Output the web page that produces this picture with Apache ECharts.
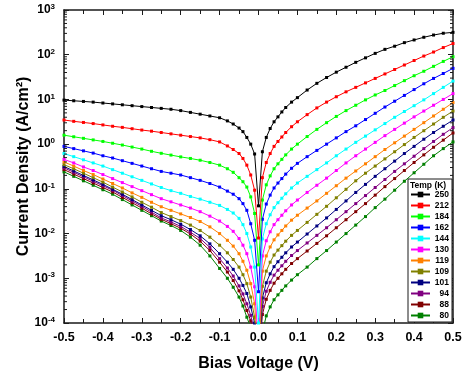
<!DOCTYPE html>
<html>
<head>
<meta charset="utf-8">
<script src="https://cdn.jsdelivr.net/npm/echarts@6/dist/echarts.min.js"></script>
<style>
  html, body { margin: 0; padding: 0; background: #fff; }
  #chart { width: 466px; height: 377px; }
</style>
</head>
<body>
<div id="chart"></div>
<script>
// Bias voltage (V) sample points (markers in the reference)
const voltage = [-0.5,-0.475,-0.45,-0.425,-0.4,-0.375,-0.35,-0.325,-0.3,-0.275,-0.25,-0.225,-0.2,-0.175,-0.15,-0.125,
  -0.1,-0.08,-0.065,-0.05,-0.04,-0.03,-0.02,-0.01,0,
  0.01,0.02,0.03,0.04,0.05,0.06,0.07,0.085,0.1,
  0.125,0.15,0.175,0.2,0.225,0.25,0.275,0.3,0.325,0.35,0.375,0.4,0.425,0.45,0.475,0.5];

// Temperatures (K), legend order
const temps = ['250','212','184','162','144','130','119','109','101','94','88','80'];

// Current density, stored as log10(J in A/cm^2)
const logJ_250 = [0.985,0.97,0.955,0.94,0.92,0.90,0.88,0.86,0.84,0.82,0.80,0.78,0.75,0.71,0.67,0.63,
  0.59,0.52,0.45,0.36,0.28,0.15,0.0,-0.22,-1.38,
  -0.17,0.15,0.35,0.50,0.61,0.72,0.82,0.94,1.04,
  1.21,1.36,1.49,1.61,1.72,1.83,1.93,2.03,2.12,2.19,2.27,2.33,2.39,2.44,2.48,2.50];
const logJ_212 = [0.54,0.51,0.485,0.46,0.43,0.40,0.375,0.345,0.315,0.29,0.26,0.23,0.20,0.17,0.14,0.10,
  0.05,-0.04,-0.12,-0.21,-0.32,-0.47,-0.69,-1.03,-2.1,
  -0.75,-0.41,-0.21,-0.05,0.06,0.16,0.26,0.39,0.50,
  0.66,0.81,0.94,1.06,1.17,1.27,1.37,1.47,1.57,1.67,1.77,1.87,1.97,2.06,2.16,2.25];
const logJ_184 = [0.20,0.165,0.13,0.095,0.06,0.02,-0.02,-0.065,-0.11,-0.16,-0.205,-0.245,-0.285,-0.32,-0.36,-0.41,
  -0.47,-0.55,-0.63,-0.75,-0.84,-0.96,-1.18,-1.55,-2.7,
  -1.25,-0.91,-0.71,-0.55,-0.44,-0.34,-0.24,-0.11,0.0,
  0.17,0.33,0.48,0.62,0.75,0.87,0.99,1.10,1.20,1.31,1.42,1.53,1.63,1.74,1.85,1.955];
const logJ_162 = [-0.05,-0.10,-0.15,-0.20,-0.26,-0.31,-0.37,-0.43,-0.49,-0.55,-0.61,-0.65,-0.69,-0.75,-0.81,-0.88,
  -0.96,-1.05,-1.12,-1.22,-1.33,-1.48,-1.78,-2.15,-3.3,
  -1.68,-1.34,-1.14,-0.98,-0.87,-0.77,-0.67,-0.54,-0.43,
  -0.28,-0.14,0.0,0.14,0.28,0.41,0.55,0.69,0.83,0.96,1.09,1.22,1.35,1.47,1.58,1.695];
const logJ_144 = [-0.21,-0.28,-0.35,-0.42,-0.49,-0.57,-0.65,-0.73,-0.81,-0.89,-0.97,-1.04,-1.10,-1.17,-1.23,-1.30,
  -1.37,-1.46,-1.54,-1.66,-1.80,-2.0,-2.30,-2.75,-4.0,
  -2.12,-1.78,-1.58,-1.42,-1.31,-1.21,-1.11,-0.98,-0.87,
  -0.72,-0.57,-0.42,-0.26,-0.11,0.04,0.18,0.32,0.46,0.60,0.73,0.86,0.99,1.13,1.27,1.41];
const logJ_130 = [-0.34,-0.42,-0.51,-0.59,-0.68,-0.77,-0.86,-0.95,-1.04,-1.13,-1.22,-1.29,-1.36,-1.43,-1.51,-1.61,
  -1.72,-1.84,-1.95,-2.11,-2.26,-2.45,-2.75,-3.19,-4.5,
  -2.50,-2.16,-1.96,-1.80,-1.69,-1.59,-1.49,-1.36,-1.25,
  -1.08,-0.92,-0.76,-0.59,-0.42,-0.26,-0.11,0.04,0.19,0.33,0.47,0.61,0.74,0.87,1.0,1.13];
const logJ_119 = [-0.40,-0.49,-0.59,-0.68,-0.78,-0.88,-0.98,-1.09,-1.19,-1.30,-1.40,-1.48,-1.56,-1.64,-1.73,-1.85,
  -2.0,-2.15,-2.28,-2.45,-2.62,-2.82,-3.12,-3.57,-4.8,
  -2.84,-2.50,-2.30,-2.14,-2.03,-1.93,-1.83,-1.70,-1.59,
  -1.43,-1.27,-1.10,-0.93,-0.76,-0.60,-0.44,-0.28,-0.12,0.03,0.18,0.33,0.48,0.63,0.78,0.93];
const logJ_109 = [-0.46,-0.55,-0.65,-0.75,-0.85,-0.96,-1.07,-1.18,-1.30,-1.41,-1.53,-1.62,-1.71,-1.81,-1.93,-2.08,
  -2.26,-2.43,-2.58,-2.75,-2.92,-3.12,-3.42,-3.87,-5.0,
  -3.18,-2.84,-2.64,-2.48,-2.37,-2.27,-2.17,-2.04,-1.93,
  -1.75,-1.57,-1.39,-1.20,-1.01,-0.82,-0.65,-0.49,-0.33,-0.17,-0.01,0.15,0.30,0.45,0.60,0.74];
const logJ_101 = [-0.50,-0.60,-0.70,-0.80,-0.90,-1.01,-1.12,-1.24,-1.36,-1.48,-1.60,-1.69,-1.79,-1.91,-2.05,-2.23,
  -2.45,-2.64,-2.80,-3.0,-3.16,-3.34,-3.64,-4.0,-5.0,
  -3.44,-3.10,-2.90,-2.74,-2.63,-2.53,-2.43,-2.30,-2.19,
  -2.01,-1.83,-1.65,-1.46,-1.27,-1.08,-0.90,-0.72,-0.55,-0.38,-0.21,-0.05,0.11,0.26,0.40,0.54];
const logJ_94 = [-0.53,-0.63,-0.73,-0.83,-0.93,-1.03,-1.15,-1.27,-1.39,-1.52,-1.65,-1.74,-1.84,-1.97,-2.11,-2.31,
  -2.56,-2.77,-2.95,-3.17,-3.35,-3.57,-3.83,-4.2,-5.0,
  -3.63,-3.29,-3.09,-2.93,-2.82,-2.72,-2.62,-2.49,-2.38,
  -2.21,-2.04,-1.87,-1.69,-1.51,-1.33,-1.15,-0.97,-0.79,-0.61,-0.44,-0.27,-0.10,0.06,0.22,0.37];
const logJ_88 = [-0.57,-0.67,-0.77,-0.87,-0.97,-1.07,-1.19,-1.31,-1.43,-1.56,-1.68,-1.78,-1.88,-2.01,-2.17,-2.38,
  -2.64,-2.86,-3.05,-3.28,-3.48,-3.72,-3.95,-4.3,-5.0,
  -3.81,-3.47,-3.27,-3.11,-3.00,-2.90,-2.80,-2.67,-2.56,
  -2.39,-2.22,-2.05,-1.87,-1.69,-1.51,-1.33,-1.14,-0.95,-0.77,-0.59,-0.41,-0.24,-0.07,0.09,0.25];
const logJ_80 = [-0.62,-0.72,-0.82,-0.92,-1.02,-1.12,-1.24,-1.36,-1.48,-1.60,-1.72,-1.82,-1.93,-2.08,-2.26,-2.50,
  -2.78,-3.0,-3.20,-3.42,-3.62,-3.87,-4.1,-4.5,-5.0,
  -4.2,-3.84,-3.64,-3.48,-3.37,-3.27,-3.17,-3.04,-2.92,
  -2.75,-2.56,-2.38,-2.19,-2.0,-1.81,-1.62,-1.42,-1.23,-1.03,-0.83,-0.64,-0.45,-0.26,-0.10,0.05];

const seriesLogs = [logJ_250, logJ_212, logJ_184, logJ_162, logJ_144, logJ_130, logJ_119, logJ_109, logJ_101, logJ_94, logJ_88, logJ_80];
const colors = ['#000000','#ff0000','#00ff00','#0000ff','#00ffff','#ff00ff','#ff8000','#808000','#000080','#800080','#800000','#008000'];

const FONT = '"Liberation Sans", Arial, sans-serif';
const AXIS_COLOR = '#1a1a1a';

const chart = echarts.init(document.getElementById('chart'), null, { renderer: 'canvas' });

const lineSeries = temps.map((t, i) => ({
  name: t,
  type: 'line',
  data: voltage.map((v, k) => [v, Math.pow(10, seriesLogs[i][k])]),
  symbol: 'rect',
  symbolSize: 3,
  showSymbol: true,
  lineStyle: { width: 1, color: colors[i] },
  itemStyle: { color: colors[i] },
  clip: true,
  z: 3 + (temps.length - i) * 0.01,
  animation: false
}));

// minor log ticks (2..9 x 10^n) on left and right frames
const minorTickValues = [];
for (let n = -4; n <= 2; n++) for (let k = 2; k <= 9; k++) minorTickValues.push([0, k * Math.pow(10, n)]);

const minorTickSeries = {
  type: 'custom',
  silent: true,
  clip: false,
  z: 10,
  animation: false,
  data: minorTickValues,
  renderItem: function (params, api) {
    const v = api.value(1);
    const l = api.coord([-0.5, v]);
    const r = api.coord([0.5, v]);
    return {
      type: 'group',
      children: [
        { type: 'line', shape: { x1: l[0], y1: l[1], x2: l[0] + 3, y2: l[1] }, style: { stroke: AXIS_COLOR, lineWidth: 1 } },
        { type: 'line', shape: { x1: r[0] - 3, y1: r[1], x2: r[0], y2: r[1] }, style: { stroke: AXIS_COLOR, lineWidth: 1 } }
      ]
    };
  }
};

function xLabel(v) {
  if (Math.abs(v) < 1e-9) return '0.0';
  return v.toFixed(1);
}
function yLabel(v) {
  const e = Math.round(Math.log10(v));
  return '{b|10}{s|' + e + '}';
}

const option = {
  backgroundColor: '#ffffff',
  animation: false,
  grid: { left: 64, right: 13, top: 10, bottom: 54, containLabel: false },
  xAxis: [
    {
      type: 'value', min: -0.5, max: 0.5, interval: 0.1,
      position: 'bottom',
      name: 'Bias Voltage (V)', nameLocation: 'middle', nameGap: 33, nameMoveOverlap: false,
      nameTextStyle: { fontFamily: FONT, fontSize: 16, fontWeight: 'bold', color: '#000' },
      axisLine: { show: true, onZero: false, lineStyle: { color: AXIS_COLOR, width: 1.5 } },
      axisTick: { show: true, inside: true, length: 5, lineStyle: { color: AXIS_COLOR, width: 1 } },
      minorTick: { show: true, splitNumber: 2, length: 4, lineStyle: { color: AXIS_COLOR, width: 1 } },
      axisLabel: { formatter: xLabel, fontFamily: FONT, fontSize: 12.5, fontWeight: 'bold', color: '#000', margin: 8 },
      splitLine: { show: false }
    },
    {
      type: 'value', min: -0.5, max: 0.5, interval: 0.1,
      position: 'top',
      axisLine: { show: true, onZero: false, lineStyle: { color: AXIS_COLOR, width: 1.5 } },
      axisTick: { show: true, inside: true, length: 5, lineStyle: { color: AXIS_COLOR, width: 1 } },
      minorTick: { show: true, splitNumber: 2, length: 4, lineStyle: { color: AXIS_COLOR, width: 1 } },
      axisLabel: { show: false },
      splitLine: { show: false }
    }
  ],
  yAxis: [
    {
      type: 'log', logBase: 10, min: 1e-4, max: 1e3,
      position: 'left',
      name: 'Current Density (A/cm\u00B2)', nameLocation: 'middle', nameGap: 32, nameMoveOverlap: false,
      nameTextStyle: { fontFamily: FONT, fontSize: 16, fontWeight: 'bold', color: '#000' },
      axisLine: { show: true, onZero: false, lineStyle: { color: AXIS_COLOR, width: 1.5 } },
      axisTick: { show: true, inside: true, length: 5, lineStyle: { color: AXIS_COLOR, width: 1 } },
      axisLabel: {
        formatter: yLabel, margin: 9,
        rich: {
          b: { fontFamily: FONT, fontSize: 12, fontWeight: 'bold', color: '#000', lineHeight: 14 },
          s: { fontFamily: FONT, fontSize: 8, fontWeight: 'bold', color: '#000', verticalAlign: 'top', lineHeight: 8 }
        }
      },
      splitLine: { show: false }
    },
    {
      type: 'log', logBase: 10, min: 1e-4, max: 1e3,
      position: 'right',
      axisLine: { show: true, onZero: false, lineStyle: { color: AXIS_COLOR, width: 1.5 } },
      axisTick: { show: true, inside: true, length: 5, lineStyle: { color: AXIS_COLOR, width: 1 } },
      axisLabel: { show: false },
      splitLine: { show: false }
    }
  ],
  legend: {
    data: temps,
    orient: 'vertical',
    left: 408, top: 179,
    padding: [10, 3, 1, 2],
    itemWidth: 19, itemHeight: 7, itemGap: 0,
    backgroundColor: '#ffffff',
    borderColor: '#1a1a1a', borderWidth: 1, borderRadius: 0,
    formatter: name => '{n|' + name + '}',
    textStyle: {
      fontFamily: FONT, fontSize: 8.5, fontWeight: 'bold', color: '#000', lineHeight: 11,
      rich: { n: { width: 14, align: 'right', fontFamily: FONT, fontSize: 8.5, fontWeight: 'bold', color: '#000', lineHeight: 11 } }
    },
    selectedMode: false,
    z: 20
  },
  graphic: [
    {
      type: 'text', left: 410, top: 181, z: 100,
      style: { text: 'Temp (K)', fontFamily: FONT, fontSize: 8.5, fontWeight: 'bold', fill: '#000' }
    }
  ],
  series: lineSeries.concat([minorTickSeries])
};

chart.setOption(option);
</script>
</body>
</html>
